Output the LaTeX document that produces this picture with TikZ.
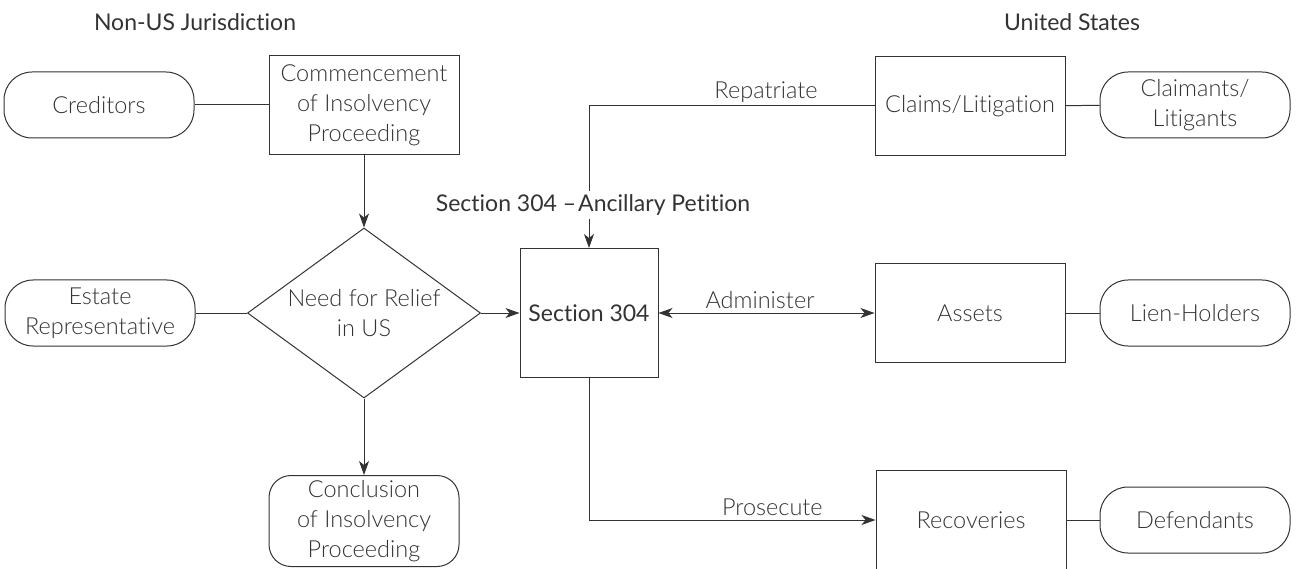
\documentclass[tikz,border=0pt]{standalone}
\usepackage{fontspec}
\setmainfont{Lato Light}[BoldFont=Lato, Ligatures={TeX,NoCommon}]
\usepackage{tikz}
\usetikzlibrary{shapes.geometric,arrows.meta}
\definecolor{ink}{HTML}{333333}
\tikzset{
  >={Stealth[length=14pt,width=10pt,inset=4pt]},
  every node/.style={font=\fontsize{23.5}{30}\selectfont, text=ink, align=center},
  heading/.style={font=\fontsize{23}{30}\selectfont\bfseries},
  box/.style={draw=ink, line width=1pt, minimum width=190pt, minimum height=99pt, inner sep=2pt},
  party/.style={draw=ink, line width=1pt, rounded corners=28pt, minimum width=190pt, minimum height=66pt, inner sep=2pt},
  decision/.style={draw=ink, line width=1pt, diamond, shape aspect=1.37, minimum width=233pt, minimum height=170pt, inner sep=0pt},
  link/.style={draw=ink, line width=1pt},
}
\begin{document}
\begin{tikzpicture}[x=1pt, y=-1pt]
    \useasboundingbox (0,0) rectangle (1298,569);

    % Jurisdictions
    \node[heading] (nonus) at (195,22) {Non-US Jurisdiction};
    \node[heading] (us) at (1072,22) {United States};

    % Non-US side
    \node[party] (creditors) at (99,105) {Creditors};
    \node[box] (commence) at (364,105) {Commencement\\of Insolvency\\Proceeding};
    \node[decision] (need) at (364,313) {Need for Relief\\in US};
    \node[party] (estate) at (100,313) {Estate\\Representative};
    \node[party, rounded corners=22pt, minimum height=91pt] (conclusion) at (364,521) {Conclusion\\of Insolvency\\Proceeding};

    % Section 304
    \node[box, minimum width=138pt, minimum height=129pt, heading] (sec) at (589,313) {Section 304};

    % US side
    \node[box] (claims) at (970,106) {Claims/Litigation};
    \node[party] (claimants) at (1195,105) {Claimants/\\Litigants};
    \node[box] (assets) at (970,313) {Assets};
    \node[party] (lien) at (1195,313) {Lien-Holders};
    \node[box] (recov) at (971,520) {Recoveries};
    \node[party] (defend) at (1195,520) {Defendants};

    % Connectors
    \draw[link] (creditors) -- (commence);
    \draw[link,->] (commence) -- (need);
    \draw[link] (estate) -- (need);
    \draw[link,->] (need) -- (conclusion);
    \draw[link,->] (need) -- (sec);
    \draw[link,->] (claims.west) -- node[above, pos=0.38] {Repatriate} (sec.north |- claims.west) -- (sec.north);
    \draw[link,<->] (sec) -- node[above, pos=0.47] {Administer} (assets);
    \draw[link,->] (sec.south) |- node[above, pos=0.82] {Prosecute} (recov.west);
    \draw[link] (claims) -- (claimants);
    \draw[link] (assets) -- (lien);
    \draw[link] (recov) -- (defend);

    % petition label over the line
    \node[heading, fill=white, inner xsep=2pt, inner ysep=4pt] (petition) at (593,205) {Section 304 –\hspace{2pt}Ancillary Petition};
\end{tikzpicture}
\end{document}
